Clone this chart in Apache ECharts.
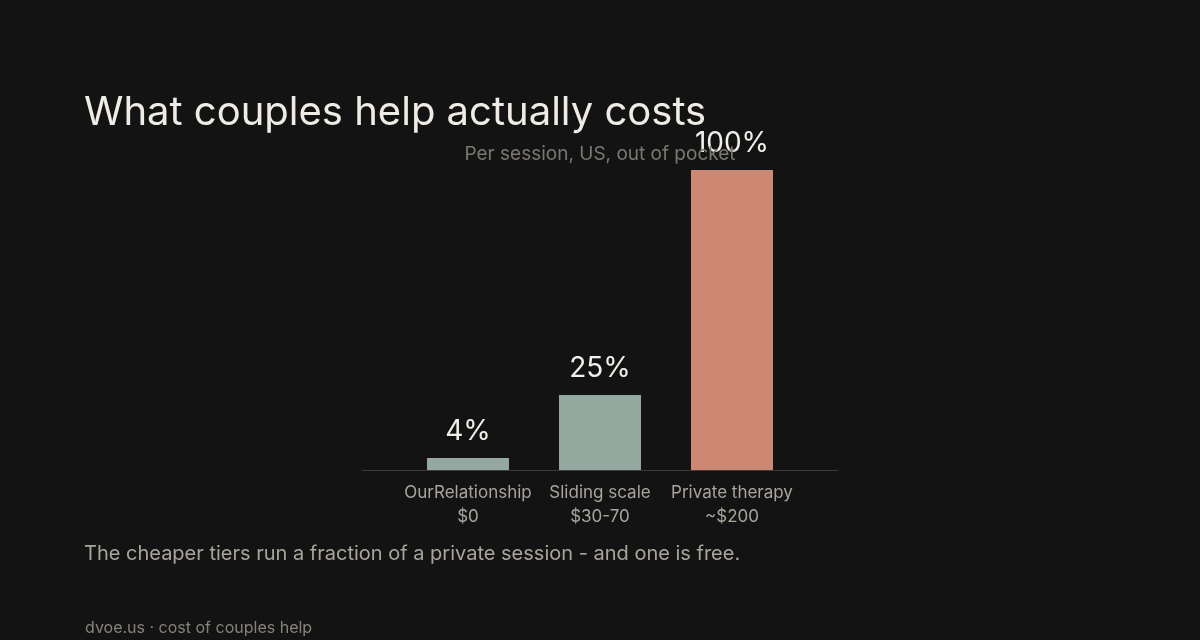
<!DOCTYPE html>
<html>
<head>
<meta charset="utf-8">
<script src="https://cdn.jsdelivr.net/npm/echarts@6/dist/echarts.min.js"></script>
<style>
html,body{margin:0;padding:0;background:#131313;}
#c{width:1200px;height:640px;}
</style>
</head>
<body>
<div id="c"></div>
<script>
const categories = ['OurRelationship', 'Sliding scale', 'Private therapy'];
const prices = ['$0', '$30-70', '~$200'];
const shareOfPrivate = [4, 25, 100];
const barColors = ['#93a89e', '#93a89e', '#cc8872'];

const FONT = 'Inter, "Noto Sans", sans-serif';
const chart = echarts.init(document.getElementById('c'));
chart.setOption({
  backgroundColor: '#131313',
  animation: false,
  textStyle: { fontFamily: FONT },
  title: [
    { text: 'What couples help actually costs', left: 79, top: 88,
      textStyle: { color: '#efebe5', fontSize: 40, fontWeight: 400, fontFamily: FONT } },
    { text: 'Per session, US, out of pocket', left: 'center', top: 140,
      textStyle: { color: '#7b7771', fontSize: 19, fontWeight: 400, fontFamily: FONT } },
    { text: 'The cheaper tiers run a fraction of a private session - and one is free.', left: 79, top: 539,
      textStyle: { color: '#a9a59d', fontSize: 20, fontWeight: 400, fontFamily: FONT } },
    { text: 'dvoe.us · cost of couples help', left: 80, top: 615,
      textStyle: { color: '#87837c', fontSize: 16, fontWeight: 400, fontFamily: FONT } }
  ],
  grid: [
    { left: 362, right: 362, top: 170, bottom: 170 },
    { left: 402, right: 402, top: 170, bottom: 170 }
  ],
  xAxis: [
    { type: 'category', gridIndex: 0, data: [''],
      axisLine: { show: true, lineStyle: { color: '#3c3c3c', width: 1 } },
      axisTick: { show: false }, axisLabel: { show: false } },
    { type: 'category', gridIndex: 1, data: categories,
      axisLine: { show: false }, axisTick: { show: false },
      axisLabel: {
        interval: 0, margin: 11, color: '#a9a59d', fontSize: 17, lineHeight: 24, fontFamily: FONT,
        formatter: (v, i) => v + '\n' + prices[i]
      } }
  ],
  yAxis: [
    { type: 'value', gridIndex: 0, min: 0, max: 100, show: false, splitLine: { show: false } },
    { type: 'value', gridIndex: 1, min: 0, max: 100, show: false, splitLine: { show: false } }
  ],
  series: [{
    type: 'bar', xAxisIndex: 1, yAxisIndex: 1,
    barWidth: 82,
    data: shareOfPrivate.map((v, i) => ({ value: v, itemStyle: { color: barColors[i] } })),
    label: {
      show: true, position: 'top', distance: 12,
      color: '#f2efea', fontSize: 28, fontFamily: FONT,
      formatter: p => p.value + '%'
    }
  }]
});
</script>
</body>
</html>
